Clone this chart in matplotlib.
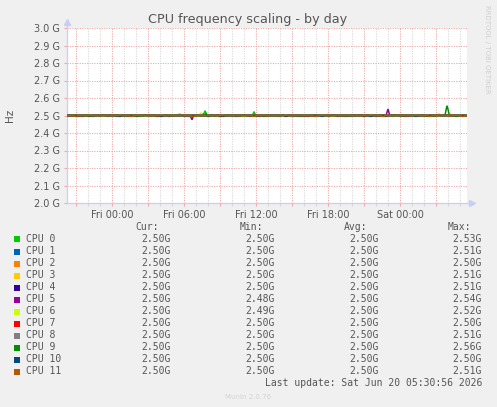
import numpy as np
import matplotlib
matplotlib.use("Agg")
import matplotlib.pyplot as plt
from matplotlib.patches import Rectangle

W, H = 497, 407

cpus = ["CPU 0", "CPU 1", "CPU 2", "CPU 3", "CPU 4", "CPU 5",
        "CPU 6", "CPU 7", "CPU 8", "CPU 9", "CPU 10", "CPU 11"]
colors = ["#00CC00", "#0066B3", "#FF8000", "#FFCC00", "#330099", "#990099",
          "#CCFF00", "#FF0000", "#808080", "#008F00", "#00487D", "#B35A00"]
cur = ["2.50G", "2.50G", "2.50G", "2.50G", "2.50G", "2.50G",
       "2.50G", "2.50G", "2.50G", "2.50G", "2.50G", "2.50G"]
mins = ["2.50G", "2.50G", "2.50G", "2.50G", "2.50G", "2.48G",
        "2.49G", "2.50G", "2.50G", "2.50G", "2.50G", "2.50G"]
avgs = ["2.50G", "2.50G", "2.50G", "2.50G", "2.50G", "2.50G",
        "2.50G", "2.50G", "2.50G", "2.50G", "2.50G", "2.50G"]
maxs = ["2.53G", "2.51G", "2.50G", "2.51G", "2.51G", "2.54G",
        "2.52G", "2.50G", "2.51G", "2.56G", "2.50G", "2.51G"]
xlabels = ["", "Fri 00:00", "", "Fri 06:00", "", "Fri 12:00", "",
           "Fri 18:00", "", "Sat 00:00", ""]

# 5 minute samples, hours relative to Fri 00:00
n_samples = 400
start_hour = -3.75
base_ghz = 2.50

# (cpu, sample, GHz) readings that leave the 2.5 GHz line
spikes = [
    (0, 137, 2.512), (0, 138, 2.527), (0, 139, 2.515),
    (0, 186, 2.508), (0, 187, 2.522), (0, 188, 2.508),
    (1, 113, 2.506),
    (3, 260, 2.508),
    (4, 136, 2.508),
    (5, 124, 2.488), (5, 125, 2.476), (5, 126, 2.492), (5, 135, 2.505),
    (5, 320, 2.518), (5, 321, 2.537), (5, 322, 2.515),
    (6, 133, 2.508), (6, 134, 2.516), (6, 150, 2.492),
    (8, 112, 2.508),
    (9, 139, 2.512), (9, 379, 2.530), (9, 380, 2.556), (9, 381, 2.535), (9, 382, 2.510),
    (11, 372, 2.508), (11, 383, 2.506),
]
# short stretches a hair below 2.5 GHz (start sample of a 3 sample run)
dips = [
    [0, 4, 58, 96, 147, 211, 262, 301, 352, 384],
    [40, 72, 117, 171, 226, 283, 333, 366],
    [18, 83, 160, 199, 244, 312, 356, 390],
    [30, 66, 142, 179, 222, 257, 291, 345],
    [10, 49, 101, 168, 230, 270, 318],
    [25, 61, 120, 182, 236, 276, 308, 341],
    [35, 78, 130, 176, 215, 265, 327, 370],
    [14, 89, 152, 191, 240, 296, 337],
    [44, 108, 163, 206, 250, 287, 325, 377],
    [22, 69, 140, 196, 233, 279, 360, 388],
    [52, 93, 155, 218, 254, 303, 348],
    [8, 63, 125, 186, 247, 315, 362, 395],
]
dip_ghz = 2.4953

hours = start_hour + np.arange(n_samples) / 12.0

fig = plt.figure(figsize=(W / 100, H / 100), dpi=100, facecolor="#F0F0F0")
ax = fig.add_axes([67 / W, 1 - 203 / H, 400 / W, 175 / H], facecolor="white")

for i in range(len(cpus)):
    vals = np.full(n_samples, base_ghz)
    for s in dips[i]:
        vals[s:s + 3] = dip_ghz
    for c, s, v in spikes:
        if c == i:
            vals[s] = v
    ax.plot(hours, vals, color=colors[i], lw=1.1, solid_joinstyle="miter", zorder=3)

ax.set_xlim(start_hour, start_hour + n_samples / 12.0)
ax.set_ylim(2.0, 3.0)

grid_red = "#EDA8A8"
grid_gray = "#D8D8D8"
dash = (0, (1, 1.2))

for y in np.arange(2.1, 3.01, 0.1):
    ax.axhline(y, color=grid_red, lw=0.8, ls=dash, zorder=1)
for h in range(-3, 30):
    if h % 3 == 0:
        ax.axvline(h, color=grid_red, lw=0.8, ls=dash, zorder=1)
    else:
        ax.axvline(h, color=grid_gray, lw=0.8, ls=dash, zorder=0.5)

ax.set_xticks(range(-3, 30, 3))
ax.set_xticklabels(xlabels)
ax.set_xticks([h for h in range(-3, 30) if h % 3], minor=True)
ax.set_yticks(np.arange(2.0, 3.01, 0.1))
ax.set_yticklabels(["%.1f G" % v for v in np.arange(2.0, 3.01, 0.1)])

txt = "#555555"
ax.tick_params(axis="x", which="major", length=2, width=0.8, color=grid_red,
               labelsize=7, labelcolor=txt, pad=3)
ax.tick_params(axis="x", which="minor", length=2, width=0.8, color=grid_gray)
ax.tick_params(axis="y", length=2, width=0.8, color=grid_red,
               labelsize=7, labelcolor=txt, pad=3)

axis_col = "#C8CEF4"
for side in ["top", "right"]:
    ax.spines[side].set_visible(False)
for side in ["left", "bottom"]:
    ax.spines[side].set_color(axis_col)
    ax.spines[side].set_linewidth(0.9)
ax.plot([0, 0], [1, 1.03], color=axis_col, lw=0.9, transform=ax.transAxes, clip_on=False)
ax.plot([1, 1.01], [0, 0], color=axis_col, lw=0.9, transform=ax.transAxes, clip_on=False)
ax.plot([0], [1.034], marker="^", ms=4, color=axis_col, transform=ax.transAxes, clip_on=False)
ax.plot([1.0125], [0], marker=">", ms=4, color=axis_col, transform=ax.transAxes, clip_on=False)


def put(x, y, s, **kw):
    fig.text(x / W, 1 - y / H, s, **kw)


put(248, 19, "CPU frequency scaling - by day", ha="center", va="center",
    fontsize=9.2, color=txt)
put(10, 115, "Hz", ha="center", va="center", rotation=90, fontsize=7.5, color=txt)
put(487, 5, "RRDTOOL / TOBI OETIKER", ha="center", va="top", rotation=270,
    fontsize=5, color="#D0D0D0")

mono = dict(family="DejaVu Sans Mono", fontsize=7, color=txt, va="center")
put(159, 227, "Cur:", ha="right", **mono)
put(263, 227, "Min:", ha="right", **mono)
put(367, 227, "Avg:", ha="right", **mono)
put(471, 227, "Max:", ha="right", **mono)
for i, name in enumerate(cpus):
    y = 239.5 + 12 * i
    fig.add_artist(Rectangle((14 / W, 1 - (y + 3) / H), 6 / W, 6 / H,
                             transform=fig.transFigure, color=colors[i], lw=0))
    put(26, y, name, ha="left", **mono)
    put(171, y, cur[i], ha="right", **mono)
    put(275, y, mins[i], ha="right", **mono)
    put(379, y, avgs[i], ha="right", **mono)
    put(482, y, maxs[i], ha="right", **mono)
put(482, 383.5, "Last update: Sat Jun 20 05:30:56 2026", ha="right", **mono)
put(248, 397, "Munin 2.0.76", ha="center", va="center", fontsize=5, color="#D4D4D4")

fig.savefig("out.png", dpi=100, facecolor=fig.get_facecolor())
